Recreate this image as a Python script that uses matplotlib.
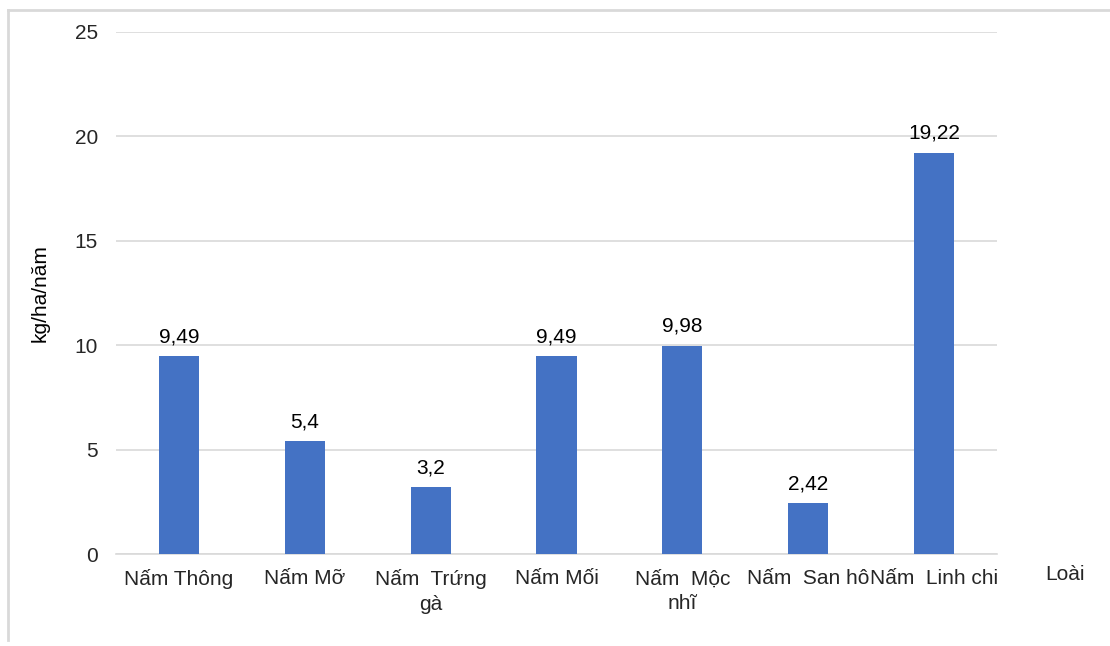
import matplotlib.pyplot as plt
from matplotlib.lines import Line2D

# Năng suất các loài nấm (kg/ha/năm)
species = ["Nấm Thông", "Nấm Mỡ", "Nấm  Trứng\ngà", "Nấm Mối",
           "Nấm  Mộc\nnhĩ", "Nấm  San hô", "Nấm  Linh chi"]
values = [9.49, 5.4, 3.2, 9.49, 9.98, 2.42, 19.22]
value_labels = ["9,49", "5,4", "3,2", "9,49", "9,98", "2,42", "19,22"]
y_ticks = [0, 5, 10, 15, 20, 25]

BAR_COLOR = "#4472C4"
GRID_COLOR = "#D9D9D9"
TEXT_COLOR = "#262626"
FS = 15

plt.rcParams["font.family"] = ["Liberation Sans", "DejaVu Sans"]

fig = plt.figure(figsize=(11.1, 6.46), dpi=100)
ax = fig.add_axes([0.1045, 0.1424, 0.7937, 0.8081])

x = range(len(species))
bars = ax.bar(x, values, width=0.32, color=BAR_COLOR, zorder=3)
for bar, lab in zip(bars, value_labels):
    ax.annotate(lab, (bar.get_x() + bar.get_width() / 2, bar.get_height()),
                xytext=(0, 7), textcoords="offset points",
                ha="center", va="bottom", fontsize=FS, color="black")

ax.set_xlim(-0.5, len(species) - 0.5)
ax.set_ylim(0, 25)
ax.set_yticks(y_ticks)
ax.set_yticklabels([str(t) for t in y_ticks], fontsize=FS, color=TEXT_COLOR)
ax.set_xticks(list(x))
ax.set_xticklabels(species, fontsize=FS, color=TEXT_COLOR, linespacing=1.35)
ax.tick_params(length=0)
ax.tick_params(axis="x", pad=11)
ax.tick_params(axis="y", pad=13)
ax.yaxis.grid(True, color=GRID_COLOR, linewidth=1.2, zorder=0)
for side in ["top", "right", "left"]:
    ax.spines[side].set_visible(False)
ax.spines["bottom"].set_color(GRID_COLOR)
ax.spines["bottom"].set_linewidth(1.2)

ax.set_ylabel("kg/ha/năm", fontsize=FS, color="black", labelpad=18)
fig.text(1065 / 1110, 1 - 575 / 646, "Loài", fontsize=FS, color=TEXT_COLOR,
         ha="center", va="center")

# khung viền biểu đồ (trên và trái)
fig.add_artist(Line2D([8 / 1110, 8 / 1110], [0.01, 1 - 10 / 646],
                      transform=fig.transFigure, color=GRID_COLOR, linewidth=2))
fig.add_artist(Line2D([8 / 1110, 1.0], [1 - 10 / 646, 1 - 10 / 646],
                      transform=fig.transFigure, color=GRID_COLOR, linewidth=2))

fig.savefig("out.png", dpi=100, facecolor="white")
